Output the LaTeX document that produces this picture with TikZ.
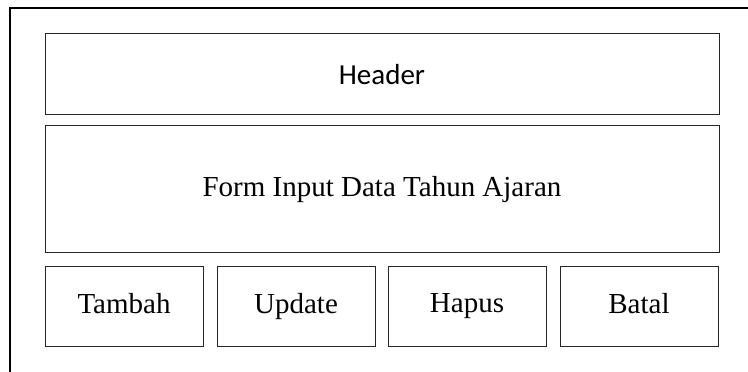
\documentclass[tikz,border=0pt]{standalone}
\usepackage{fontspec}
\setmainfont{Liberation Serif}
\newfontfamily\headfont{Carlito}
\usetikzlibrary{positioning}

\tikzset{
  panel/.style={draw=black!85, line width=1pt, minimum width=674pt, inner sep=0pt, font=\fontsize{29}{33}\selectfont},
  btn/.style={draw=black!85, line width=1pt, minimum width=158pt, minimum height=80pt, inner sep=0pt,
    text height=19pt, text depth=6pt, font=\fontsize{29}{33}\selectfont}
}

\begin{document}
\begin{tikzpicture}[x=1pt, y=1pt]
\useasboundingbox (0,0) rectangle (748,372);
% window frame
\draw[line width=1.6pt] (10,0) -- (10,364) -- (748,364);

\node[panel, minimum height=81pt, font=\headfont\fontsize{29}{33}\selectfont] (header) at (382,297.5) {Header};
\node[panel, minimum height=127pt] (form) at (382,182.5) {Form Input Data Tahun Ajaran};

\node[btn] (tambah) at (124,65) {Tambah};
\node[btn, right=13pt of tambah] (update) {Update};
\node[btn, right=12pt of update, yshift=0.5pt] (hapus) {Hapus};
\node[btn, right=13pt of hapus, yshift=-0.5pt] (batal) {Batal};

\end{tikzpicture}
\end{document}
